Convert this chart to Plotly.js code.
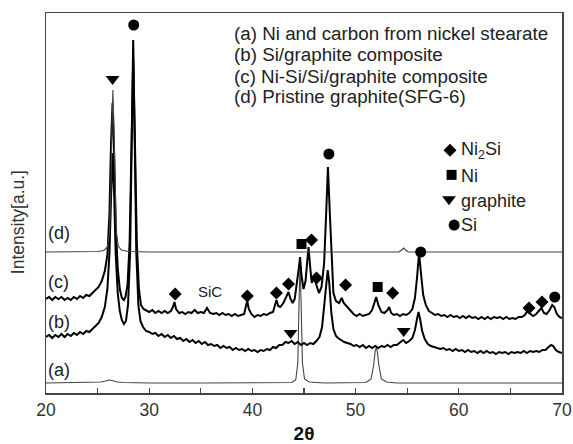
<!DOCTYPE html>
<html>
<head>
<meta charset="utf-8">
<script src="https://cdn.plot.ly/plotly-3.0.1.min.js"></script>
<style>html,body{margin:0;padding:0;background:#fff;}#chart{width:573px;height:444px;}</style>
</head>
<body>
<div id="chart"></div>
<script>
// 2theta (deg), intensity (a.u.)
const traceA = [[20,10],[22,10.5],[24,10.5],[25.3,11],[25.8,12],[26.1,13],[26.4,12.5],[26.9,11],[27.5,10.5],[30,10],[35,10],[40,10],[43,10],[43.8,10.5],[44.2,13],[44.4,30],[44.52,90],[44.62,131],[44.72,90],[44.85,30],[45.05,14],[45.5,11],[47,10],[50,10],[51,10.5],[51.5,14],[51.75,28],[51.9,42],[52.0,45],[52.1,42],[52.25,28],[52.5,14],[53,11],[54,10],[60,10],[65,10],[70,10]];

const traceB = [[20,56],[20.3,58],[20.6,55],[20.9,58],[21.2,56],[21.5,59],[21.8,56],[22.1,59],[22.4,57],[22.7,60],[23,58],[23.3,61],[23.6,59],[23.9,62],[24.2,61],[24.5,64],[24.8,66],[25.1,70],[25.4,76],[25.7,86],[25.95,104],[26.15,140],[26.3,195],[26.45,240],[26.6,200],[26.75,140],[26.95,100],[27.15,82],[27.35,73],[27.55,69],[27.75,72],[27.95,88],[28.15,140],[28.3,260],[28.45,353],[28.6,250],[28.75,140],[28.95,88],[29.15,72],[29.4,66],[29.7,62],[30,61],[30.3,59],[30.6,60],[30.9,57],[31.2,59],[31.5,56],[31.8,58],[32.1,55],[32.4,57],[32.7,54],[33,55],[33.3,52],[33.6,54],[33.9,51],[34.2,53],[34.5,50],[34.8,52],[35.1,49],[35.4,51],[35.7,48],[36,49],[36.3,47],[36.6,48],[36.9,45],[37.2,47],[37.5,45],[37.8,46],[38.1,43],[38.4,45],[38.7,43],[39,44],[39.3,42],[39.6,44],[39.9,42],[40.2,43],[40.5,41],[40.8,43],[41.1,42],[41.4,44],[41.7,43],[42,46],[42.3,45],[42.6,48],[42.9,48],[43.2,51],[43.5,50],[43.8,52],[44.1,49],[44.4,51],[44.7,48],[45,50],[45.3,48],[45.6,50],[45.9,49],[46.2,52],[46.5,56],[46.75,66],[46.95,85],[47.15,110],[47.3,123],[47.45,110],[47.65,80],[47.85,64],[48.1,57],[48.3,55],[48.6,53],[48.9,51],[49.2,50],[49.5,49],[49.8,47],[50.1,48],[50.4,46],[50.7,48],[51,45],[51.3,47],[51.6,45],[51.9,47],[52.2,45],[52.5,47],[52.8,46],[53.1,48],[53.4,46],[53.7,48],[54,48],[54.3,51],[54.6,53],[54.9,50],[55.2,52],[55.5,55],[55.75,63],[55.95,74],[56.1,81],[56.25,74],[56.45,62],[56.7,54],[57,49],[57.3,47],[57.6,46],[57.9,45],[58.2,44],[58.5,45],[58.8,43],[59.1,44],[59.4,42],[59.7,44],[60,42],[60.3,43],[60.6,41],[60.9,43],[61.2,41],[61.5,42],[61.8,40],[62.1,42],[62.4,40],[62.7,42],[63,40],[63.3,41],[63.6,39],[63.9,41],[64.2,40],[64.5,41],[64.8,39],[65.1,41],[65.4,40],[65.7,41],[66,40],[66.3,42],[66.6,40],[66.9,42],[67.2,41],[67.5,42],[67.8,41],[68.1,43],[68.4,43],[68.7,46],[68.95,48],[69.15,47],[69.4,43],[69.7,41],[70,40]];

const traceC = [[20,94],[20.3,96],[20.6,93],[20.9,96],[21.2,94],[21.5,96],[21.8,93],[22.1,95],[22.4,93],[22.7,96],[23,94],[23.3,97],[23.6,95],[23.9,98],[24.2,97],[24.5,100],[24.8,102],[25.1,106],[25.4,112],[25.7,122],[25.95,138],[26.15,180],[26.3,250],[26.45,290],[26.6,240],[26.75,170],[26.95,125],[27.15,104],[27.35,95],[27.55,93],[27.7,96],[27.9,108],[28.1,150],[28.28,260],[28.45,335],[28.62,250],[28.8,150],[29.0,105],[29.2,88],[29.45,84],[29.75,82],[30,81],[30.3,83],[30.6,80],[30.9,82],[31.2,80],[31.5,82],[31.8,80],[32.1,82],[32.3,86],[32.45,91],[32.6,84],[32.9,80],[33.2,81],[33.5,79],[33.8,81],[34.1,80],[34.4,83],[34.7,80],[35,81],[35.3,80],[35.6,85],[35.9,80],[36.2,79],[36.5,80],[36.8,78],[37.1,80],[37.4,78],[37.7,79],[38,77],[38.3,79],[38.6,77],[38.9,78],[39.2,79],[39.35,86],[39.5,92],[39.65,84],[39.9,79],[40.2,76],[40.5,78],[40.8,77],[41.1,79],[41.4,78],[41.7,80],[42,81],[42.2,88],[42.33,93],[42.5,87],[42.7,86],[43,90],[43.2,94],[43.5,101],[43.7,94],[43.9,90],[44.1,94],[44.3,108],[44.5,125],[44.62,136],[44.75,118],[44.95,104],[45.15,112],[45.3,130],[45.44,146],[45.58,128],[45.75,110],[45.95,116],[46.05,118],[46.2,108],[46.45,100],[46.7,106],[46.95,130],[47.15,180],[47.32,226],[47.5,180],[47.7,125],[47.85,100],[48.1,92],[48.4,90],[48.65,95],[48.85,90],[49.2,86],[49.5,82],[49.8,79],[50.1,77],[50.4,79],[50.7,77],[51,78],[51.3,79],[51.6,83],[51.85,92],[52.0,96],[52.2,88],[52.5,81],[52.8,80],[53.1,83],[53.25,86],[53.45,80],[53.7,78],[54,79],[54.3,77],[54.6,79],[54.9,78],[55.2,80],[55.5,84],[55.75,95],[55.95,115],[56.15,140],[56.35,118],[56.55,98],[56.8,88],[57.1,82],[57.4,80],[57.7,78],[58,79],[58.3,77],[58.6,78],[58.9,76],[59.2,78],[59.5,76],[59.8,77],[60.1,75],[60.4,77],[60.7,75],[61,77],[61.3,75],[61.6,76],[61.9,74],[62.2,76],[62.5,74],[62.8,76],[63.1,74],[63.4,76],[63.7,75],[64,76],[64.3,74],[64.6,76],[64.9,74],[65.2,75],[65.5,74],[65.8,76],[66.1,76],[66.4,78],[66.7,83],[66.95,79],[67.2,77],[67.5,79],[67.8,83],[68.0,85],[68.25,80],[68.5,79],[68.8,83],[69.05,88],[69.25,86],[69.5,79],[69.75,76],[70,75]];

const traceD = [[20,141],[22,141],[24,141],[25,141.5],[25.6,142.5],[25.95,146],[26.15,160],[26.3,210],[26.42,280],[26.48,303],[26.56,275],[26.68,205],[26.82,160],[27.0,147],[27.3,143],[28,141.5],[30,141],[35,141],[40,141],[45,141],[50,141],[54.2,141],[54.45,143],[54.65,145],[54.85,143],[55.1,141],[60,141],[65,141],[70,141]];

// peak markers: [2theta, intensity]
const ni2siPeaks = [[32.52,99],[39.51,97],[42.33,100],[43.5,109],[45.73,153],[46.21,115],[49.03,108],[53.59,100],[66.8,85],[68.06,91]];
const niPeaks = [[44.76,149],[52.14,106]];
const graphitePeaks = [[26.45,314],[43.7,60],[54.66,62]];
const siPeaks = [[28.5,368],[47.41,239],[56.31,141],[69.3,96]];

// tick labels
const xTicks = [20,30,40,50,60,70];

// text
const curveLabels = ['(a)','(b)','(c)','(d)'];
const headerLines = ['(a) Ni and carbon from nickel stearate','(b) Si/graphite composite','(c) Ni-Si/Si/graphite composite','(d) Pristine graphite(SFG-6)'];
const keyNames = ['Ni<sub>2</sub>Si','Ni','graphite','Si'];
const keySymbols = ['diamond','square','triangle-down','circle'];
const keySizes = [10,10,12,11];

const xs = p => p.map(d => d[0]);
const ys = p => p.map(d => d[1]);

const data = [];
const lineSpec = [[traceA,'#444',1.1],[traceB,'#000',2],[traceC,'#000',2],[traceD,'#444',1.1]];
lineSpec.forEach(([t,c,w]) => data.push({x: xs(t), y: ys(t), type:'scatter', mode:'lines', line:{color:c, width:w}, hoverinfo:'skip'}));

const peakSets = [ni2siPeaks, niPeaks, graphitePeaks, siPeaks];
peakSets.forEach((p,i) => data.push({x: xs(p), y: ys(p), type:'scatter', mode:'markers', marker:{symbol:keySymbols[i], size:keySizes[i], color:'#000'}, hoverinfo:'skip'}));

// key glyphs on an overlay (fractional) axis
const keyGlyphX = [0.783, 0.786, 0.781, 0.791];
const keyGlyphY = [0.639, 0.574, 0.510, 0.442];
keySymbols.forEach((s,i) => data.push({x:[keyGlyphX[i]], y:[keyGlyphY[i]], xaxis:'x2', yaxis:'y2', type:'scatter', mode:'markers', marker:{symbol:s, size:keySizes[i], color:'#000'}, hoverinfo:'skip'}));

const F = 'Arial, "Liberation Sans", sans-serif';
const annotations = [];
const labelY = [0.061, 0.187, 0.292, 0.421];
curveLabels.forEach((t,i) => annotations.push({xref:'paper', yref:'paper', x:0.0, y:labelY[i], xanchor:'left', yanchor:'middle', text:t, showarrow:false, font:{family:F, size:18, color:'#222'}}));
const headY = [0.947, 0.892, 0.834, 0.779];
headerLines.forEach((t,i) => annotations.push({xref:'paper', yref:'paper', x:0.36, y:headY[i], xanchor:'left', yanchor:'middle', text:t, showarrow:false, font:{family:F, size:18.8, color:'#222'}}));
const keyTextY = [0.637, 0.572, 0.505, 0.442];
keyNames.forEach((t,i) => annotations.push({xref:'paper', yref:'paper', x:0.8, y:keyTextY[i], xanchor:'left', yanchor:'middle', text:t, showarrow:false, font:{family:F, size:18, color:'#222'}}));
annotations.push({xref:'paper', yref:'paper', x:0.318, y:0.266, xanchor:'center', yanchor:'middle', text:'SiC', showarrow:false, font:{family:F, size:15, color:'#222'}});
annotations.push({xref:'paper', yref:'paper', x:-0.054, y:0.45, xanchor:'center', yanchor:'middle', textangle:-90, text:'Intensity[a.u.]', showarrow:false, font:{family:F, size:17.5, color:'#333'}});

const layout = {
  width:573, height:444,
  margin:{l:46, r:11, t:13, b:51},
  paper_bgcolor:'#fff', plot_bgcolor:'#fff',
  showlegend:false,
  font:{family:F, color:'#333'},
  xaxis:{range:[20,70], tickvals:xTicks, ticktext:xTicks.map(String), ticks:'inside', ticklen:5, tickcolor:'#444', tickwidth:1.2,
         minor:{dtick:5, tick0:20, ticks:'inside', ticklen:5, tickcolor:'#444', tickwidth:1.2},
         showgrid:false, zeroline:false, showline:true, mirror:true, linecolor:'#444', linewidth:1.5,
         tickfont:{family:F, size:17.5, color:'#333'},
         title:{text:'<b>2θ</b>', font:{family:F, size:19, color:'#111'}, standoff:8}},
  yaxis:{range:[0,380], showticklabels:false, ticks:'', showgrid:false, zeroline:false, showline:true, mirror:true, linecolor:'#444', linewidth:1.5},
  xaxis2:{overlaying:'x', range:[0,1], visible:false},
  yaxis2:{overlaying:'y', range:[0,1], visible:false},
  annotations: annotations
};
Plotly.newPlot('chart', data, layout, {displayModeBar:false, staticPlot:true});
</script>
</body>
</html>
